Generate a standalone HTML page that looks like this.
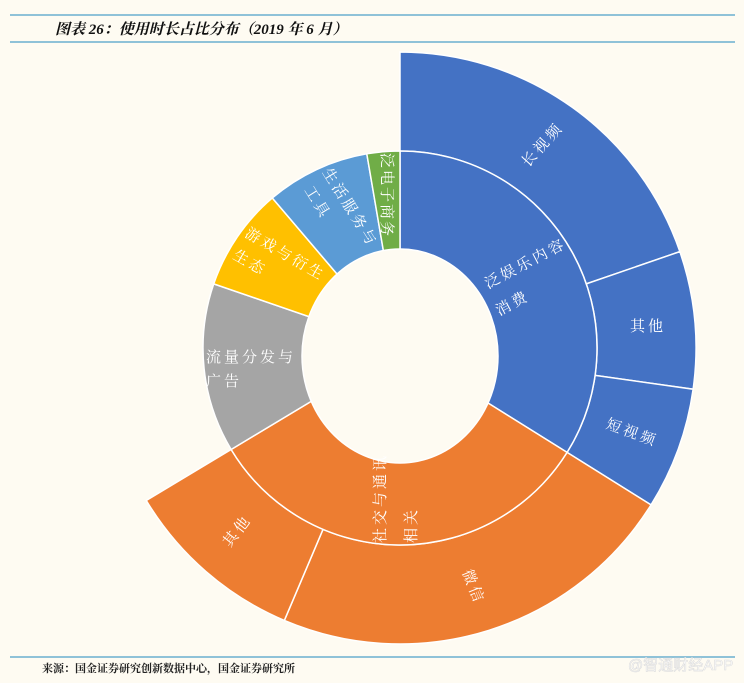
<!DOCTYPE html>
<html><head><meta charset="utf-8"><style>
html,body{margin:0;padding:0;background:#FEFBF2;}
svg{display:block}
.t{font-family:"Liberation Serif","Noto Serif CJK SC",serif;fill:#fff;font-size:15px;letter-spacing:3px;}
</style></head><body>
<svg id="s" width="744" height="683" viewBox="0 0 744 683" xmlns="http://www.w3.org/2000/svg">
<rect width="744" height="683" fill="#FEFBF2"/>
<line x1="10" y1="15" x2="735" y2="15" stroke="#6AAFD0" stroke-width="1.5"/>
<line x1="10" y1="42" x2="735" y2="42" stroke="#6AAFD0" stroke-width="1.5"/>
<text x="55" y="34" font-family="Liberation Serif,'Noto Serif CJK SC',serif" font-weight="bold" font-style="italic" font-size="15" fill="#111">图表 26：使用时长占比分布（2019 年 6 月）</text>
<g id="sec"></g>
<ellipse cx="400" cy="356" rx="98" ry="107" fill="#FEFBF2" stroke="#fff" stroke-width="1.5"/>
<g class="t">
<text transform="translate(528,168) rotate(-48)">长视频</text>
<text transform="translate(488,289) rotate(-28)">泛娱乐内容</text>
<text transform="translate(499,316) rotate(-28)">消费</text>
<text x="630" y="331">其他</text>
<text transform="translate(605,428) rotate(20)">短视频</text>
<text transform="translate(462,572) rotate(68)">微信</text>
<text transform="translate(230,548) rotate(-52)">其他</text>
<text transform="translate(385,543) rotate(-90)">社交与通讯</text>
<text transform="translate(416,543) rotate(-90)">相关</text>
<text x="206" y="362">流量分发与</text>
<text x="206" y="386">广告</text>
<text transform="translate(244,236) rotate(30)">游戏与衍生</text>
<text transform="translate(232,258) rotate(30)">生态</text>
<text transform="translate(322,172) rotate(58)">生活服务与</text>
<text transform="translate(304,190) rotate(58)">工具</text>
<text transform="translate(382,153) rotate(90)" style="letter-spacing:2px">泛电子商务</text>
</g>
<line x1="10" y1="657" x2="735" y2="657" stroke="#6AAFD0" stroke-width="1.5"/>
<text x="42" y="672" font-family="Liberation Serif,'Noto Serif CJK SC',serif" font-weight="bold" font-size="11" fill="#222">来源：国金证券研究创新数据中心，国金证券研究所</text>
<text x="628" y="670" font-family="Liberation Sans,'Noto Sans CJK SC',sans-serif" font-size="15" fill="#fff" stroke="#ddd" stroke-width="0.6">@智通财经APP</text>
</svg>
<script>
(function(){
var cx=400,cy=348,ns="http://www.w3.org/2000/svg",g=document.getElementById("sec");
function p(r,a){a=a*Math.PI/180;return (cx+r*Math.cos(a)).toFixed(2)+","+(cy+r*Math.sin(a)).toFixed(2);}
function sec(r0,r1,a0,a1,c){
 var l=(a1-a0)>180?1:0,d;
 if(r0==0)d="M"+cx+","+cy+" L"+p(r1,a0)+" A"+r1+","+r1+" 0 "+l+" 1 "+p(r1,a1)+" Z";
 else d="M"+p(r0,a0)+" L"+p(r1,a0)+" A"+r1+","+r1+" 0 "+l+" 1 "+p(r1,a1)+" L"+p(r0,a1)+" A"+r0+","+r0+" 0 "+l+" 0 "+p(r0,a0)+" Z";
 var e=document.createElementNS(ns,"path");e.setAttribute("d",d);e.setAttribute("fill",c);
 e.setAttribute("stroke","#fff");e.setAttribute("stroke-width","1.5");g.appendChild(e);}
var R1=197,R2=296;
sec(R1,R2,-90,-19,"#4472C4");sec(R1,R2,-19,8,"#4472C4");sec(R1,R2,8,32,"#4472C4");
sec(R1,R2,32,113,"#ED7D31");sec(R1,R2,113,149,"#ED7D31");
sec(0,R1,-90,32,"#4472C4");sec(0,R1,32,149,"#ED7D31");sec(0,R1,149,199,"#A5A5A5");
sec(0,R1,199,229.6,"#FFC000");sec(0,R1,229.6,260.3,"#5B9BD5");sec(0,R1,260.3,270,"#70AD47");
})();
</script>
</body></html>
